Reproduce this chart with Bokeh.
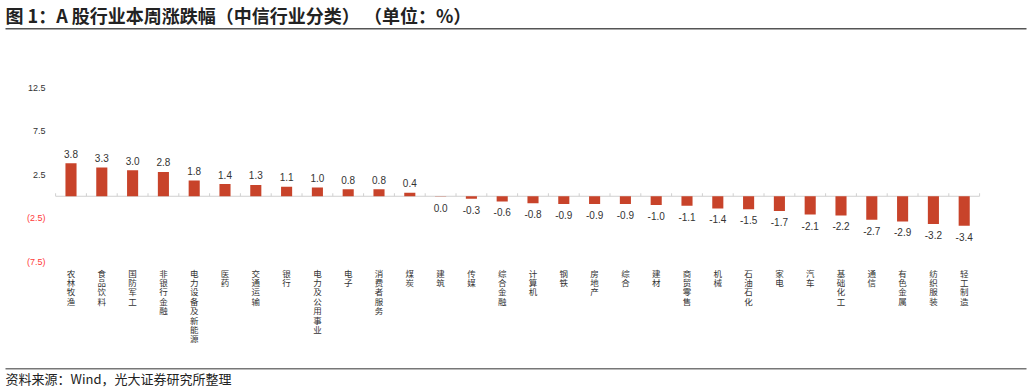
from bokeh.plotting import figure
from bokeh.models import Range1d, Label, BoxAnnotation, ColumnDataSource
from bokeh.core.properties import value
from bokeh.embed import file_html
from bokeh.resources import INLINE

# ---------------- data ----------------
categories = ["农林牧渔", "食品饮料", "国防军工", "非银行金融", "电力设备及新能源", "医药",
              "交通运输", "银行", "电力及公用事业", "电子", "消费者服务", "煤炭", "建筑",
              "传媒", "综合金融", "计算机", "钢铁", "房地产", "综合", "建材", "商贸零售",
              "机械", "石油石化", "家电", "汽车", "基础化工", "通信", "有色金属",
              "纺织服装", "轻工制造"]
changes = [3.8, 3.3, 3.0, 2.8, 1.8, 1.4, 1.3, 1.1, 1.0, 0.8, 0.8, 0.4, -0.04,
           -0.3, -0.6, -0.8, -0.9, -0.9, -0.9, -1.0, -1.1, -1.4, -1.5, -1.7, -2.1,
           -2.2, -2.7, -2.9, -3.2, -3.4]
y_ticks = [12.5, 7.5, 2.5, -2.5, -7.5]
title_text = "图 1：A 股行业本周涨跌幅（中信行业分类） （单位：%）"
source_text = "资料来源：Wind，光大证券研究所整理"

# ---------------- layout constants ----------------
W, H = 1032, 389
X0_PX, STEP_PX = 70.5, 30.8       # pixel centre of first category, category spacing
ZERO_PX, UNIT_PX = 195.75, 8.7    # pixel row of value 0, pixels per unit
BAR_COLOR = "#C8432A"
CJK = "Noto Sans CJK SC"
LATIN = "Liberation Sans"

n = len(categories)
idx = list(range(n))

p = figure(width=W, height=H, output_backend="svg", toolbar_location=None,
           x_range=Range1d(-X0_PX / STEP_PX, (W - X0_PX) / STEP_PX),
           y_range=Range1d(-(H - ZERO_PX) / UNIT_PX, ZERO_PX / UNIT_PX),
           min_border=0, min_border_left=0, min_border_right=0,
           min_border_top=0, min_border_bottom=0)
p.axis.visible = False
p.grid.visible = False
p.outline_line_color = None
p.background_fill_color = "white"
p.border_fill_color = "white"

# axis line at zero and small category-boundary ticks
p.segment(x0=[-0.5], x1=[n - 0.5], y0=[0], y1=[0], line_color="#d0d0d0", line_width=1)
bounds = [i - 0.5 for i in range(n + 1)]
p.segment(x0=bounds, x1=bounds, y0=[0] * len(bounds), y1=[3 / UNIT_PX] * len(bounds),
          line_color="#d0d0d0", line_width=1)

# bars
src = ColumnDataSource(dict(x=idx, v=changes,
                            cat=["\n".join(c) for c in categories]))
p.vbar(x="x", top="v", bottom=0, width=0.36, source=src, fill_color=BAR_COLOR, line_color=None)

# value labels
pos = ColumnDataSource(dict(x=[i for i in idx if changes[i] > 0],
                            v=[changes[i] for i in idx if changes[i] > 0],
                            lbl=[f"{changes[i]:.1f}" for i in idx if changes[i] > 0]))
neg = ColumnDataSource(dict(x=[i for i in idx if changes[i] <= 0],
                            v=[changes[i] for i in idx if changes[i] <= 0],
                            lbl=[f"{round(changes[i], 1) + 0.0:.1f}" for i in idx if changes[i] <= 0]))
p.text(x="x", y="v", text="lbl", source=pos, text_align="center", text_baseline="middle",
       y_offset=-9.5, text_font=value(LATIN), text_font_size="10px", text_color="#333333")
p.text(x="x", y="v", text="lbl", source=neg, text_align="center", text_baseline="middle",
       y_offset=11, text_font=value(LATIN), text_font_size="10px", text_color="#333333")

# category labels (vertical, stacked characters)
CAT_LABEL_Y = -8.1
p.text(x="x", y=CAT_LABEL_Y, text="cat", source=src, text_align="center", text_baseline="top",
       text_font=value(CJK), text_font_size="8.5px", text_line_height=0.78, text_color="#333333")

# y tick labels
for t in y_ticks:
    txt = f"{t:.1f}" if t >= 0 else f"({abs(t):.1f})"
    p.add_layout(Label(x=45, x_units="screen", y=t, text=txt, text_align="right",
                       text_baseline="middle", text_font=LATIN, text_font_size="9px",
                       text_color="#333333" if t >= 0 else "#FF3B3B"))

# title and footer
p.add_layout(Label(x=5, y=H - 14, x_units="screen", y_units="screen", text=title_text,
                   text_baseline="middle", text_font=CJK, text_font_size="18px",
                   text_font_style="bold", text_color="#222222"))
p.add_layout(BoxAnnotation(left=5, right=1026, bottom=H - 29, top=H - 27.5,
                           left_units="screen", right_units="screen",
                           top_units="screen", bottom_units="screen",
                           fill_color="#555555", fill_alpha=1, line_color=None))
p.add_layout(BoxAnnotation(left=5, right=1026, bottom=H - 369, top=H - 367.5,
                           left_units="screen", right_units="screen",
                           top_units="screen", bottom_units="screen",
                           fill_color="#777777", fill_alpha=1, line_color=None))
p.add_layout(Label(x=5, y=H - 378, x_units="screen", y_units="screen", text=source_text,
                   text_baseline="middle", text_font=CJK, text_font_size="13px",
                   text_color="#222222"))

open("out.html", "w").write(file_html(p, INLINE))
